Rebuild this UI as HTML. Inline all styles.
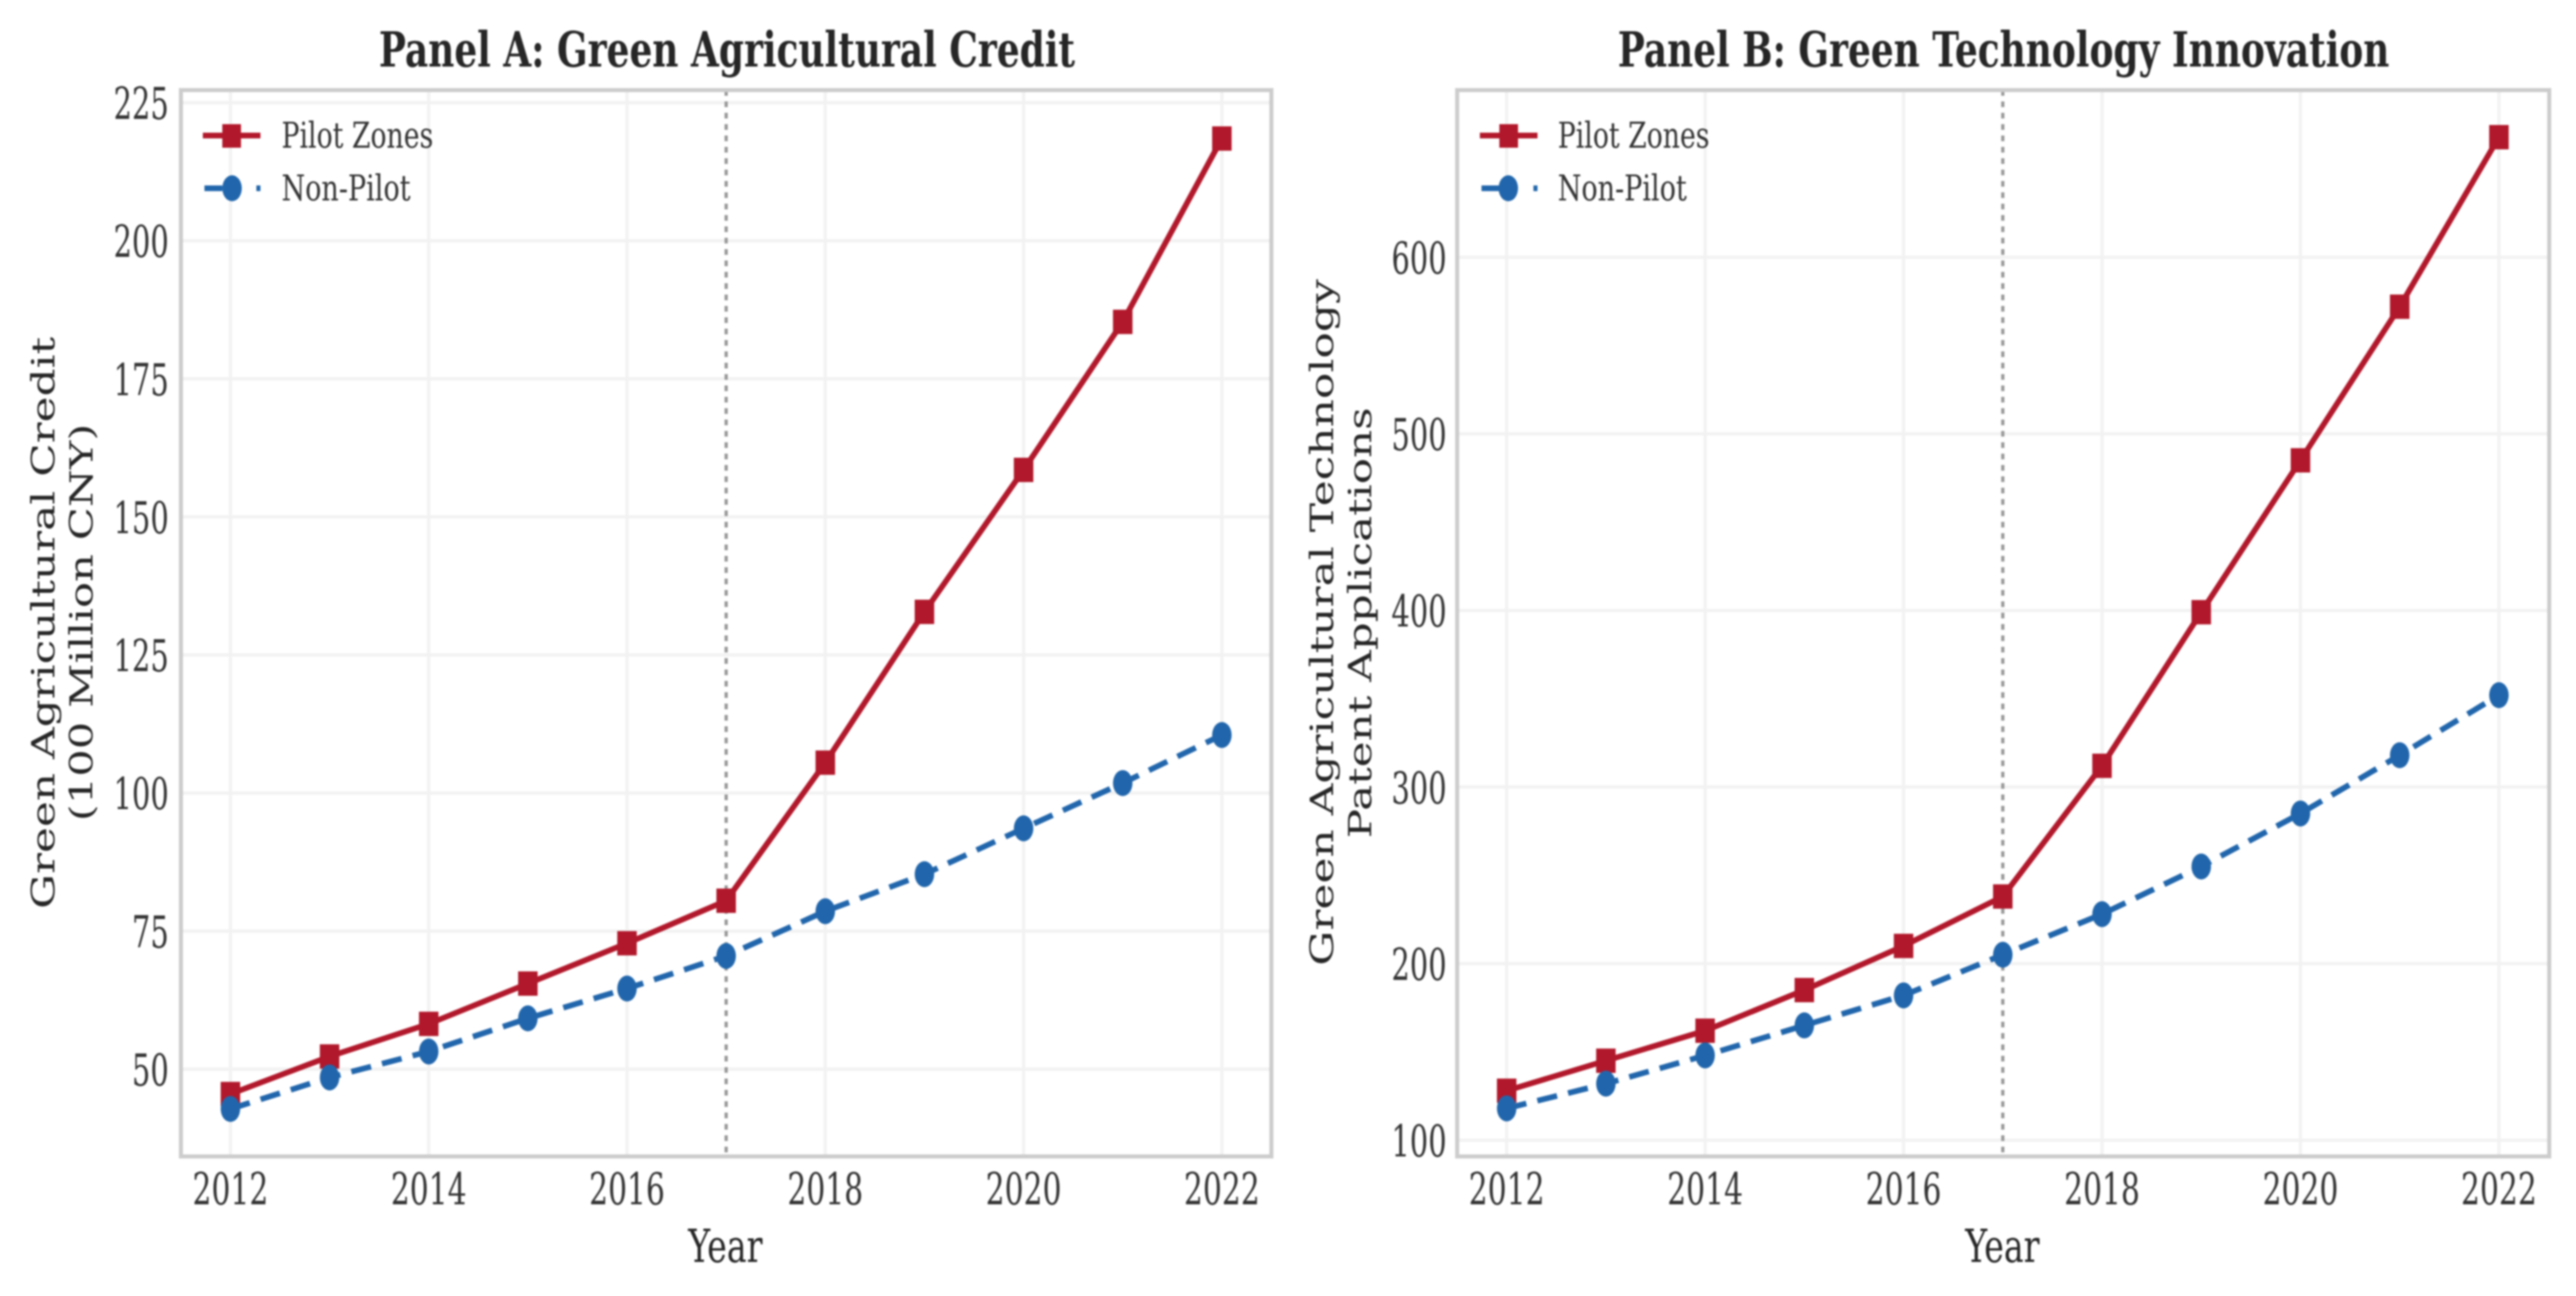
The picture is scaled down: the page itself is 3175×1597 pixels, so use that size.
<!DOCTYPE html>
<html lang="en">
<head>
<meta charset="utf-8">
<title>Green Agricultural Credit and Technology Innovation</title>
<style>
  html, body { margin: 0; padding: 0; background: #fff; }
  body { width: 3175px; height: 1597px; overflow: hidden; }
  svg { display: block; filter: blur(1.1px); }
  text { font-family: "DejaVu Serif", "Liberation Serif", serif; }
</style>
</head>
<body>
<svg id="chart" xmlns="http://www.w3.org/2000/svg" width="3175" height="1597" viewBox="0 0 3175 1597">
  <rect x="0" y="0" width="3175" height="1597" fill="#ffffff"/>
  <g id="panel-a"></g>
  <g id="panel-b"></g>

  <text x="467" y="82" font-size="60" font-weight="bold" fill="#262626" textLength="858" lengthAdjust="spacingAndGlyphs">Panel A: Green Agricultural Credit</text>
  <text x="1994" y="82" font-size="60" font-weight="bold" fill="#262626" textLength="951" lengthAdjust="spacingAndGlyphs">Panel B: Green Technology Innovation</text>

  <text transform="translate(67,1120) rotate(-90) scale(1,0.84)" font-size="47" fill="#262626" textLength="705" lengthAdjust="spacingAndGlyphs">Green Agricultural Credit</text>
  <text transform="translate(114,1012) rotate(-90) scale(1,0.84)" font-size="47" fill="#262626" textLength="490" lengthAdjust="spacingAndGlyphs">(100 Million CNY)</text>
  <text transform="translate(1643,1190) rotate(-90) scale(1,0.84)" font-size="47" fill="#262626" textLength="846" lengthAdjust="spacingAndGlyphs">Green Agricultural Technology</text>
  <text transform="translate(1690,1033) rotate(-90) scale(1,0.84)" font-size="47" fill="#262626" textLength="531" lengthAdjust="spacingAndGlyphs">Patent Applications</text>

  <text transform="translate(894,1555) scale(0.73,1)" font-size="56" fill="#262626" text-anchor="middle">Year</text>
  <text transform="translate(2468,1555) scale(0.73,1)" font-size="56" fill="#262626" text-anchor="middle">Year</text>

  <g>
    <line x1="250" y1="167" x2="321" y2="167" stroke="#b2182b" stroke-width="7"/>
    <rect x="274" y="153" width="23" height="29" fill="#b2182b"/>
    <text x="347" y="182" font-size="44" fill="#333333" textLength="187" lengthAdjust="spacingAndGlyphs">Pilot Zones</text>
    <line x1="252" y1="232" x2="321" y2="232" stroke="#2166ac" stroke-width="7" stroke-dasharray="22 42 6 30"/>
    <ellipse cx="286" cy="232" rx="12" ry="16" fill="#2166ac"/>
    <text x="347" y="247" font-size="44" fill="#333333" textLength="159" lengthAdjust="spacingAndGlyphs">Non-Pilot</text>
  </g>
  <g>
    <line x1="1824" y1="167" x2="1895" y2="167" stroke="#b2182b" stroke-width="7"/>
    <rect x="1848" y="153" width="23" height="29" fill="#b2182b"/>
    <text x="1920" y="182" font-size="44" fill="#333333" textLength="187" lengthAdjust="spacingAndGlyphs">Pilot Zones</text>
    <line x1="1826" y1="232" x2="1895" y2="232" stroke="#2166ac" stroke-width="7" stroke-dasharray="22 42 6 30"/>
    <ellipse cx="1859" cy="232" rx="12" ry="16" fill="#2166ac"/>
    <text x="1920" y="247" font-size="44" fill="#333333" textLength="159" lengthAdjust="spacingAndGlyphs">Non-Pilot</text>
  </g>
</svg>
<script>
const years = [2012, 2013, 2014, 2015, 2016, 2017, 2018, 2019, 2020, 2021, 2022];
const xTicks = [2012, 2014, 2016, 2018, 2020, 2022];
const policyYear = 2017;

const creditPilot = [45.5, 52.3, 58.2, 65.5, 72.8, 80.5, 105.5, 132.8, 158.5, 185.3, 218.5];
const creditNonPilot = [42.8, 48.5, 53.2, 59.2, 64.6, 70.5, 78.6, 85.3, 93.6, 101.8, 110.5];
const creditTicks = [50, 75, 100, 125, 150, 175, 200, 225];

const patentPilot = [128, 145, 162, 185, 210, 238, 312, 399, 485, 572, 668];
const patentNonPilot = [118, 132, 148, 165, 182, 205, 228, 255, 285, 318, 352];
const patentTicks = [100, 200, 300, 400, 500, 600];

const NS = 'http://www.w3.org/2000/svg';
const RED = '#b2182b';
const BLUE = '#2166ac';

function make(parent, tag, attrs) {
  const el = document.createElementNS(NS, tag);
  for (const k in attrs) el.setAttribute(k, attrs[k]);
  parent.appendChild(el);
  return el;
}

function drawPanel(g, frame, xAxis, yAxis, yTicks, pilot, nonPilot) {
  // horizontal gridlines and y tick labels
  yTicks.forEach(function (t) {
    const y = yAxis(t);
    const grid = make(g, 'line', { x1: frame.left, x2: frame.right, y1: y, y2: y, stroke: '#f2f2f2', 'stroke-width': 4 });
    
    
    const label = make(g, 'text', { transform: 'translate(' + frame.tickRight + ',' + (y + 20) + ') scale(0.66,1)', 'font-size': 54, fill: '#333333', 'text-anchor': 'end' });
    label.textContent = String(t);
    
    
  });

  // vertical gridlines and x tick labels
  xTicks.forEach(function (t) {
    const x = xAxis(t);
    const grid = make(g, 'line', { x1: x, x2: x, y1: frame.top, y2: frame.bottom, stroke: '#f2f2f2', 'stroke-width': 4 });
    
    
    const label = make(g, 'text', { transform: 'translate(' + x + ',1484) scale(0.68,1)', 'font-size': 54, fill: '#333333', 'text-anchor': 'middle' });
    label.textContent = String(t);
    
    
  });

  // policy year reference line
  const ref = make(g, 'line', { x1: xAxis(policyYear), x2: xAxis(policyYear), y1: frame.top, y2: frame.bottom, stroke: '#999999', 'stroke-width': 4, 'stroke-dasharray': '7 7' });
  
  

  // frame
  const box = make(g, 'rect', { x: frame.left, y: frame.top, width: frame.right - frame.left, height: frame.bottom - frame.top, fill: 'none', stroke: '#cccccc', 'stroke-width': 5 });
  
  

  // pilot series
  const pilotLine = make(g, 'polyline', { points: years.map(function (yr, i) { return xAxis(yr) + ',' + yAxis(pilot[i]); }).join(' '), fill: 'none', stroke: RED, 'stroke-width': 7, 'stroke-linejoin': 'round' });
  
  
  years.forEach(function (yr, i) {
    const m = make(g, 'rect', { x: xAxis(yr) - 12, y: yAxis(pilot[i]) - 15, width: 24, height: 30, fill: RED });
    
    
  });

  // non-pilot series
  const nonPilotLine = make(g, 'polyline', { points: years.map(function (yr, i) { return xAxis(yr) + ',' + yAxis(nonPilot[i]); }).join(' '), fill: 'none', stroke: BLUE, 'stroke-width': 7, 'stroke-dasharray': '25 14' });
  
  
  years.forEach(function (yr, i) {
    const m = make(g, 'ellipse', { cx: xAxis(yr), cy: yAxis(nonPilot[i]), rx: 12, ry: 16, fill: BLUE });
    
    
  });
}

function xAxisA(v) { return 284 + (v - 2012) * 122.2; }
function yAxisA(v) { return 1317.5 - (v - 50) * 6.806; }
function xAxisB(v) { return 1857 + (v - 2012) * 122.3; }
function yAxisB(v) { return 1405 - (v - 100) * 2.176; }

drawPanel(document.getElementById('panel-a'),
  { left: 223, right: 1567, top: 111, bottom: 1425, tickRight: 208 },
  xAxisA, yAxisA, creditTicks, creditPilot, creditNonPilot);
drawPanel(document.getElementById('panel-b'),
  { left: 1796, right: 3142, top: 111, bottom: 1425, tickRight: 1783 },
  xAxisB, yAxisB, patentTicks, patentPilot, patentNonPilot);
</script>
</body>
</html>
